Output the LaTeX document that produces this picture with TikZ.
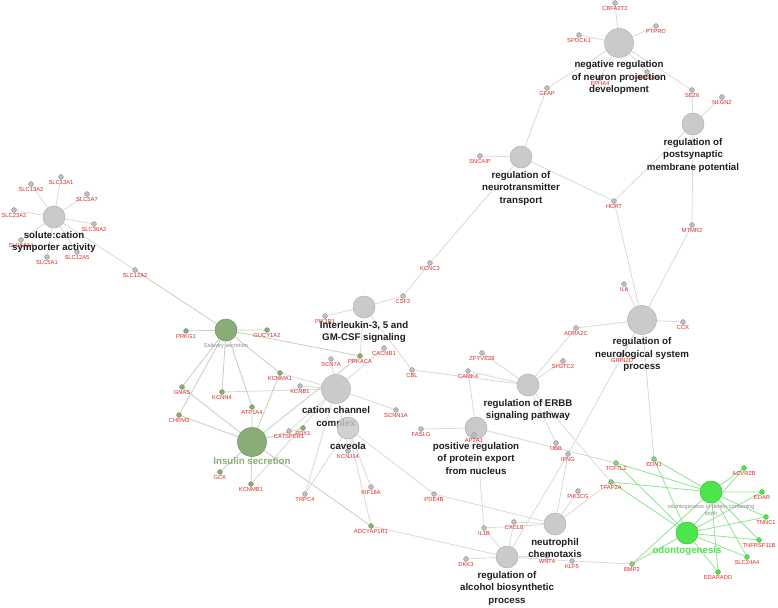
\documentclass[tikz,border=0pt]{standalone}
\usepackage{fontspec}
\setmainfont{Liberation Sans}
\usetikzlibrary{positioning}
\pgfdeclarelayer{edges}
\pgfsetlayers{edges,main}
\definecolor{genered}{RGB}{226,40,36}
\definecolor{hubgray}{RGB}{202,202,202}
\definecolor{hubline}{RGB}{178,178,178}
\definecolor{dotgray}{RGB}{192,192,192}
\definecolor{dotline}{RGB}{140,140,140}
\definecolor{olive}{RGB}{138,172,118}
\definecolor{oliveline}{RGB}{112,142,96}
\definecolor{mixgreen}{RGB}{150,200,150}
\definecolor{bright}{RGB}{76,230,76}
\definecolor{brightline}{RGB}{52,196,52}
\definecolor{edgegray}{RGB}{216,216,216}
\definecolor{edgeolive}{RGB}{198,208,186}
\definecolor{edgegreen}{RGB}{146,228,146}
\definecolor{hubtextgray}{RGB}{30,30,30}

\begin{document}
\begin{tikzpicture}[x=1pt, y=-1pt,
  hub/.style={circle, draw=hubline, fill=hubgray, line width=0.5pt, inner sep=0pt, minimum size=22pt},
  bighub/.style={hub, minimum size=29pt},
  ohub/.style={hub, draw=oliveline, fill=olive},
  ghub/.style={hub, draw=brightline, fill=bright},
  gene/.style={circle, draw=dotline, fill=dotgray, line width=0.4pt, inner sep=0pt,
    minimum size=4.8pt, label distance=0.6pt, label={[genelabel]below:#1}},
  ogene/.style={gene=#1, draw=oliveline, fill=olive},
  mgene/.style={gene=#1, draw=oliveline, fill=mixgreen},
  ggene/.style={gene=#1, draw=brightline, fill=bright},
  genelabel/.style={font=\fontsize{5.8}{6}\selectfont, text=genered, inner sep=0.3pt},
  hubtext/.style={font=\bfseries\fontsize{9.7}{12.3}\selectfont, text=hubtextgray, align=center, inner sep=0pt},
  smalltext/.style={font=\fontsize{5.6}{7}\selectfont, text=black!45, align=center, inner sep=0pt},
  edge/.style={draw=edgegray, line width=0.75pt},
  oedge/.style={draw=edgeolive, line width=0.8pt},
  gedge/.style={draw=edgegreen, line width=0.8pt}
]
\useasboundingbox (0,0) rectangle (778,607);

\node[bighub] (negreg) at (619,43) {};
\node[hub] (postsyn) at (693,124) {};
\node[hub] (transm) at (521,157) {};
\node[bighub] (neurosys) at (642,320) {};
\node[hub] (solute) at (54,217) {};
\node[hub] (il35) at (364,307) {};
\node[ohub] (saliv) at (226,330) {};
\node[bighub] (cation) at (336,389) {};
\node[bighub, draw=oliveline, fill=olive] (insulin) at (252,442) {};
\node[hub] (erbb) at (528,385) {};
\node[hub] (export) at (476,428) {};
\node[hub] (neutro) at (555,524) {};
\node[hub] (alcohol) at (507,557) {};
\node[ghub] (dentin) at (711,492) {};
\node[ghub] (odonto) at (687,533) {};

\node[gene=CBFA2T2] (cbfa2t2) at (615,3) {};
\node[gene=PTPRO] (ptpro) at (656,26) {};
\node[gene=SPOCK1] (spock1) at (579,35) {};
\node[gene=EPHA4] (epha4) at (600,78) {};
\node[gene=SEMA3A] (sema3a) at (647,72) {};
\node[gene=GFAP] (gfap) at (547,88) {};
\node[gene=SEZ6] (sez6) at (692,90) {};
\node[gene=NLGN2] (nlgn2) at (722,97) {};
\node[gene=SNCAIP] (sncaip) at (480,156) {};
\node[gene=HCRT] (hcrt) at (614,201) {};
\node[gene=MTMR2] (mtmr2) at (692,225) {};
\node[gene=KCNC3] (kcnc3) at (430,263) {};
\node[gene=CSF2] (csf2) at (403,296) {};
\node[gene=IL6] (il6) at (624,284) {};
\node[gene=CCK] (cck) at (683,322) {};
\node[gene=ADRA2C] (adra2c) at (576,328) {};
\node[gene=GRIN2D] (grin2d) at (622,355) {};
\node[gene=PIK3R1] (pik3r1) at (325,316) {};
\node[gene=CACNB1] (cacnb1) at (384,348) {};
\node[gene=SCN7A] (scn7a) at (331,359) {};
\node[ogene=PRKACA] (prkaca) at (360,356) {};
\node[ogene=KCNMA1] (kcnma1) at (280,373) {};
\node[gene=KCNB1] (kcnb1) at (300,386) {};
\node[ogene=KCNN4] (kcnn4) at (222,392) {};
\node[gene=CBL] (cbl) at (412,370) {};
\node[gene=ZFYVE28] (zfyve28) at (482,353) {};
\node[gene=CAMK4] (camk4) at (468,371) {};
\node[gene=SH3TC2] (sh3tc2) at (563,361) {};
\node[gene=SCNN1A] (scnn1a) at (396,410) {};
\node[gene=FASLG] (faslg) at (421,429) {};
\node[gene=AP2A1] (ap2a1) at (474,435) {};
\node[gene=UBB] (ubb) at (556,443) {};
\node[gene=IFNG] (ifng) at (568,454) {};
\node[gene=CATSPER1] (catsper1) at (289,431) {};
\node[ogene=PDX1] (pdx1) at (303,428) {};
\node[gene=KCNJ14] (kcnj14) at (348,451) {};
\node[gene=TRPC4] (trpc4) at (305,494) {};
\node[gene=KIF18A] (kif18a) at (371,487) {};
\node[ogene=ADCYAP1R1] (adcyap1r1) at (371,526) {};
\node[gene=PDE4B] (pde4b) at (434,494) {};
\node[gene=CXCL8] (cxcl8) at (514,522) {};
\node[gene=IL1B] (il1b) at (484,528) {};
\node[gene=PIK3CG] (pik3cg) at (578,491) {};
\node[gene=DKK3] (dkk3) at (466,559) {};
\node[gene=WNT4] (wnt4) at (547,556) {};
\node[gene=KLF5] (klf5) at (572,561) {};
\node[gene=SLC13A1] (slc13a1) at (61,177) {};
\node[gene=SLC13A2] (slc13a2) at (31,184) {};
\node[gene=SLC5A7] (slc5a7) at (87,194) {};
\node[gene=SLC23A2] (slc23a2) at (14,210) {};
\node[gene=SLC36A2] (slc36a2) at (94,224) {};
\node[gene=SLC6A14] (slc6a14) at (21,240) {};
\node[gene=SLC12A5] (slc12a5) at (77,252) {};
\node[gene=SLC5A1] (slc5a1) at (47,257) {};
\node[gene=SLC12A2] (slc12a2) at (135,270) {};
\node[ogene=PRKG1] (prkg1) at (186,331) {};
\node[ogene=GUCY1A2] (gucy1a2) at (267,330) {};
\node[ogene=GNAS] (gnas) at (182,387) {};
\node[ogene=CHRM3] (chrm3) at (179,415) {};
\node[ogene=ATP1A4] (atp1a4) at (252,407) {};
\node[ogene=GCK] (gck) at (220,472) {};
\node[ogene=KCNMB1] (kcnmb1) at (251,484) {};
\node[mgene=EDN1] (edn1) at (654,459) {};
\node[mgene=TCF7L2] (tcf7l2) at (616,463) {};
\node[mgene=TFAP2A] (tfap2a) at (611,482) {};
\node[mgene=BMP2] (bmp2) at (632,564) {};
\node[ggene=ACVR2B] (acvr2b) at (744,468) {};
\node[ggene=EDAR] (edar) at (762,492) {};
\node[ggene=TNNC1] (tnnc1) at (766,517) {};
\node[ggene=TNFRSF11B] (tnfrsf11b) at (759,540) {};
\node[ggene=SLC24A4] (slc24a4) at (747,557) {};
\node[ggene=EDARADD] (edaradd) at (718,572) {};

\node[hubtext, below=3pt of negreg] {negative regulation\\of neuron projection\\development};
\node[hubtext, below=3pt of postsyn] {regulation of\\postsynaptic\\membrane potential};
\node[hubtext, below=3pt of transm] {regulation of\\neurotransmitter\\transport};
\node[hubtext, below=3pt of neurosys] {regulation of\\neurological system\\process};
\node[hubtext, below=3pt of solute] {solute:cation\\symporter activity};
\node[hubtext, below=3pt of il35] {Interleukin-3, 5 and\\GM-CSF signaling};
\node[hubtext, below=3pt of cation] {cation channel\\complex};
\node[hub, fill opacity=0.85] (caveola) at (348,428) {};
\node[hubtext, below=3pt of caveola] {caveola};
\node[hubtext, below=3pt of erbb] {regulation of ERBB\\signaling pathway};
\node[hubtext, below=3pt of export] {positive regulation\\of protein export\\from nucleus};
\node[hubtext, below=3pt of neutro] {neutrophil\\chemotaxis};
\node[hubtext, below=3pt of alcohol] {regulation of\\alcohol biosynthetic\\process};
\node[smalltext, below=1.5pt of saliv] {Salivary secretion};
\node[hubtext, text=olive, below=1pt of insulin] {Insulin secretion};
\node[smalltext, below=1pt of dentin] {odontogenesis of dentin-containing\\tooth};
\node[hubtext, text=bright, below=2pt of odonto] {odontogenesis};

\begin{pgfonlayer}{edges}
\fill[white] (0,0) rectangle (778,607);
\draw[edge] (negreg) -- (cbfa2t2) (negreg) -- (ptpro) (negreg) -- (spock1) (negreg) -- (epha4);
\draw[edge] (negreg) -- (sema3a) (negreg) -- (gfap) (negreg) -- (sez6);
\draw[edge] (postsyn) -- (sez6) (postsyn) -- (nlgn2) (postsyn) -- (hcrt) (postsyn) -- (mtmr2);
\draw[edge] (transm) -- (gfap) (transm) -- (sncaip) (transm) -- (hcrt) (transm) -- (kcnc3) (kcnc3) -- (csf2);
\draw[edge] (neurosys) -- (hcrt) (neurosys) -- (mtmr2) (neurosys) -- (il6) (neurosys) -- (cck);
\draw[edge] (neurosys) -- (adra2c) (neurosys) -- (grin2d) (neurosys) -- (edn1) (neurosys) -- (ifng);
\draw[edge] (il35) -- (csf2) (il35) -- (pik3r1) (il35) -- (prkaca) (il35) -- (cbl);
\draw[edge] (erbb) -- (zfyve28) (erbb) -- (camk4) (erbb) -- (sh3tc2) (erbb) -- (adra2c);
\draw[edge] (erbb) -- (cbl) (erbb) -- (ubb) (erbb) -- (tfap2a);
\draw[edge] (export) -- (camk4) (export) -- (faslg) (export) -- (ap2a1) (export) -- (il1b) (export) -- (tcf7l2);
\draw[edge] (neutro) -- (ifng) (neutro) -- (pik3cg) (neutro) -- (cxcl8) (neutro) -- (il1b) (neutro) -- (pde4b);
\draw[edge] (neutro) -- (tfap2a);
\draw[edge] (alcohol) -- (dkk3) (alcohol) -- (wnt4) (alcohol) -- (il1b) (alcohol) -- (cxcl8);
\draw[edge] (alcohol) -- (adcyap1r1) (alcohol) -- (ifng) (alcohol) -- (klf5) (klf5) -- (bmp2);
\draw[edge] (cation) -- (kcnma1) (cation) -- (kcnb1) (cation) -- (kcnn4) (cation) -- (scn7a) (cation) -- (cacnb1);
\draw[edge] (cation) -- (scnn1a) (cation) -- (catsper1) (cation) -- (trpc4) (cation) -- (kcnmb1) (cation) -- (kcnj14);
\draw[edge] (caveola) -- (kif18a) (caveola) -- (pde4b) (caveola) -- (trpc4) (caveola) -- (adcyap1r1);
\draw[edge] (solute) -- (slc13a1) (solute) -- (slc13a2) (solute) -- (slc5a7) (solute) -- (slc23a2) (solute) -- (slc36a2);
\draw[edge] (solute) -- (slc6a14) (solute) -- (slc12a5) (solute) -- (slc5a1) (solute) -- (slc12a2);
\draw[oedge] (saliv) -- (slc12a2) (saliv) -- (prkg1) (saliv) -- (gucy1a2) (saliv) -- (prkaca) (saliv) -- (kcnma1);
\draw[oedge] (saliv) -- (kcnn4) (saliv) -- (gnas) (saliv) -- (chrm3) (saliv) -- (atp1a4);
\draw[oedge] (insulin) -- (gnas) (insulin) -- (chrm3) (insulin) -- (atp1a4) (insulin) -- (kcnma1) (insulin) -- (prkaca);
\draw[oedge] (insulin) -- (gck) (insulin) -- (kcnmb1) (insulin) -- (pdx1) (insulin) -- (adcyap1r1);
\draw[gedge] (dentin) -- (acvr2b) (dentin) -- (edar) (dentin) -- (tnnc1) (dentin) -- (tnfrsf11b) (dentin) -- (slc24a4);
\draw[gedge] (dentin) -- (edaradd) (dentin) -- (tcf7l2) (dentin) -- (tfap2a) (dentin) -- (edn1) (dentin) -- (bmp2);
\draw[gedge] (odonto) -- (acvr2b) (odonto) -- (edar) (odonto) -- (tnnc1) (odonto) -- (tnfrsf11b) (odonto) -- (slc24a4);
\draw[gedge] (odonto) -- (edaradd) (odonto) -- (tcf7l2) (odonto) -- (tfap2a) (odonto) -- (edn1) (odonto) -- (bmp2);
\end{pgfonlayer}
\end{tikzpicture}
\end{document}
